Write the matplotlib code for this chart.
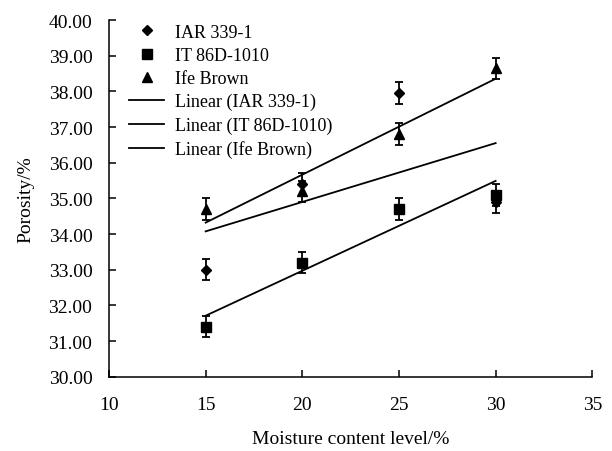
import numpy as np
import matplotlib
matplotlib.use("Agg")
import matplotlib.pyplot as plt
from matplotlib.lines import Line2D

plt.rcParams['font.family'] = ['Liberation Serif', 'DejaVu Serif']

moisture = [15, 20, 25, 30]
iar_339_1 = [33.0, 35.4, 37.95, 34.9]
it_86d_1010 = [31.4, 33.2, 34.7, 35.1]
ife_brown = [34.7, 35.2, 36.8, 38.65]
err_iar = [0.3, 0.3, 0.3, 0.3]
err_it = [0.3, 0.3, 0.3, 0.3]
err_ife = [0.3, 0.3, 0.3, 0.3]

series = [
    ("IAR 339-1", iar_339_1, err_iar, "D", 5),
    ("IT 86D-1010", it_86d_1010, err_it, "s", 6.5),
    ("Ife Brown", ife_brown, err_ife, "^", 7.5),
]

fig = plt.figure(figsize=(6.12, 4.52), dpi=100)
ax = fig.add_axes([0.1781, 0.1644, 0.7897, 0.789])

x = np.array(moisture, dtype=float)
marker_handles = []
line_handles = []
for name, vals, err, mk, ms in series:
    ax.errorbar(x, vals, yerr=err, fmt=mk, color="black", markersize=ms,
                elinewidth=1.3, capsize=3, capthick=1.3, zorder=3)
    marker_handles.append(Line2D([], [], ls="none", marker=mk, color="black",
                                markersize=ms, label=name))
for name, vals, err, mk, ms in series:
    slope, intercept = np.polyfit(x, vals, 1)
    ln, = ax.plot(x[[0, -1]], slope * x[[0, -1]] + intercept, color="black",
                  lw=1.3, label=f"Linear ({name})", zorder=2)
    line_handles.append(ln)

ax.set_xlim(10, 35)
ax.set_ylim(30, 40)
ax.set_xticks([10, 15, 20, 25, 30, 35])
ax.set_yticks(np.arange(30, 40.01, 1))
ax.yaxis.set_major_formatter(matplotlib.ticker.FormatStrFormatter("%.2f"))
ax.tick_params(direction="in", length=5, width=1.1, labelsize=14)
ax.tick_params(axis="y", pad=12)
ax.tick_params(axis="x", pad=14)
for s in ("top", "right"):
    ax.spines[s].set_visible(False)
for s in ("left", "bottom"):
    ax.spines[s].set_linewidth(1.1)

ax.set_xlabel("Moisture content level/%", fontsize=14, labelpad=12)
ax.set_ylabel("Porosity/%", fontsize=14, labelpad=10)

handles = marker_handles + line_handles
ax.legend(handles, [h.get_label() for h in handles],
          loc="upper left", bbox_to_anchor=(0.02, 1.02), frameon=False,
          fontsize=13, handlelength=1.9, handletextpad=0.6,
          labelspacing=0.34, borderaxespad=0.2)

fig.savefig("out.png", dpi=100)
